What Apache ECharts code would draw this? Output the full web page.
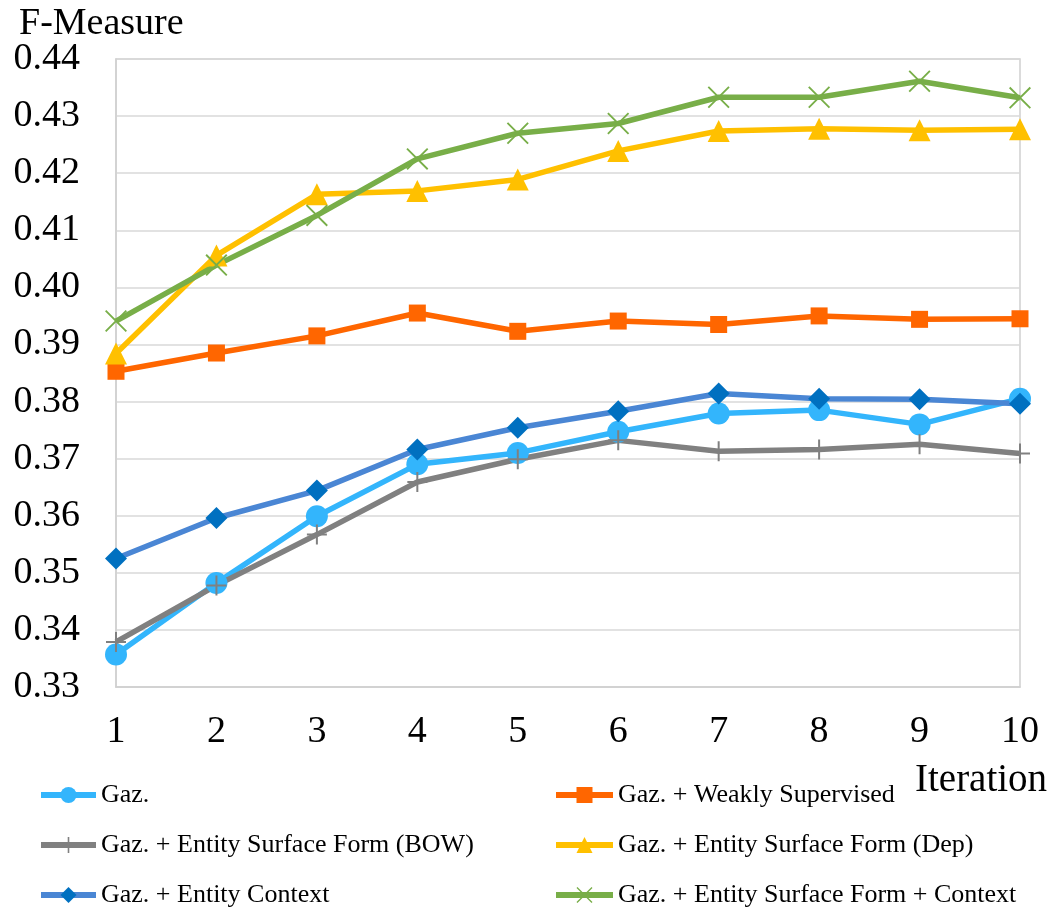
<!DOCTYPE html>
<html><head><meta charset="utf-8">
<script src="https://cdn.jsdelivr.net/npm/echarts@6/dist/echarts.min.js"></script>
<style>html,body{margin:0;padding:0;background:#fff;}#c{width:1051px;height:910px;}</style>
</head><body><div id="c"></div>
<script>
const iterations = ['1','2','3','4','5','6','7','8','9','10'];
const gaz = [0.3357,0.3482,0.3599,0.3690,0.3710,0.3747,0.3779,0.3785,0.3760,0.3805];
const weakly = [0.3853,0.3885,0.3915,0.3955,0.3923,0.3941,0.3935,0.3950,0.3944,0.3945];
const bow = [0.3379,0.3478,0.3567,0.3659,0.3699,0.3732,0.3713,0.3716,0.3725,0.3709];
const dep = [0.3884,0.4056,0.4163,0.4169,0.4189,0.4239,0.4274,0.4278,0.4275,0.4277];
const context = [0.3525,0.3596,0.3644,0.3716,0.3754,0.3783,0.3814,0.3805,0.3804,0.3796];
const surfCtx = [0.3941,0.4039,0.4126,0.4225,0.4270,0.4287,0.4333,0.4333,0.4361,0.4332];
const names = ['Gaz.','Gaz. + Weakly Supervised','Gaz. + Entity Surface Form (BOW)','Gaz. + Entity Surface Form (Dep)','Gaz. + Entity Context','Gaz. + Entity Surface Form + Context'];

const FONT = '"Liberation Serif","Times New Roman",serif';
const plusPath = 'path://M9,0L11,0L11,20L9,20Z M0,9L20,9L20,11L0,11Z';
const xPath = 'path://M1.2,0L20,18.8L18.8,20L0,1.2Z M18.8,0L20,1.2L1.2,20L0,18.8Z';

function mk(name, data, lineColor, markColor, symbol, size){
  return {name, type:'line', data, symbol, symbolSize:size, showAllSymbol:true,
    lineStyle:{color:lineColor, width:5.5}, itemStyle:{color:markColor, borderWidth:0},
    emphasis:{disabled:true}, animation:false};
}
// legend placement: [series index, left, top, icon width]
const legendPos = [[0,38,782,55],[2,38,832,55],[4,38,882,55],[1,553,782,57],[3,553,832,57],[5,553,882,57]];
const legends = legendPos.map(p => ({
  data:[names[p[0]]], left:p[1], top:p[2], itemWidth:p[3], itemHeight:20, padding:0,
  lineStyle:{width:6}, selectedMode:false,
  textStyle:{fontFamily:FONT, fontSize:26, color:'#000'}
}));

const chart = echarts.init(document.getElementById('c'), null, {renderer:'canvas'});
chart.setOption({
  backgroundColor:'#fff',
  animation:false,
  grid:{left:116, right:31, top:59, bottom:223, show:true, borderColor:'#d0d0d0', borderWidth:1.5},
  title:[
    {text:'F-Measure', left:14, top:0, textStyle:{fontFamily:FONT, fontSize:38, fontWeight:'normal', color:'#000'}},
    {text:'Iteration', left:910, top:756, textStyle:{fontFamily:FONT, fontSize:39, fontWeight:'normal', color:'#000'}}
  ],
  xAxis:{type:'category', data:iterations, boundaryGap:false,
    axisLine:{show:true, lineStyle:{color:'#d0d0d0', width:1.5}}, axisTick:{show:false},
    splitLine:{show:false},
    axisLabel:{fontFamily:FONT, fontSize:38, color:'#000', margin:26}},
  yAxis:{type:'value', min:0.33, max:0.44, interval:0.01,
    axisLine:{show:true, lineStyle:{color:'#d0d0d0', width:1.5}}, axisTick:{show:false},
    splitLine:{show:true, lineStyle:{color:'#d9d9d9', width:1.5}},
    axisLabel:{fontFamily:FONT, fontSize:38, color:'#000', margin:36, formatter:v=>v.toFixed(2)}},
  legend:legends,
  series:[
    mk(names[0], gaz, '#33B5FC', '#33B5FC', 'circle', 22),
    mk(names[1], weakly, '#FF6600', '#FF6600', 'rect', 17),
    mk(names[2], bow, '#808080', '#808080', plusPath, 20),
    mk(names[3], dep, '#FFC000', '#FFC000', 'triangle', 22),
    mk(names[4], context, '#4A86D4', '#0070C0', 'diamond', 22),
    mk(names[5], surfCtx, '#78AE48', '#78AE48', xPath, 22)
  ]
});
</script></body></html>
